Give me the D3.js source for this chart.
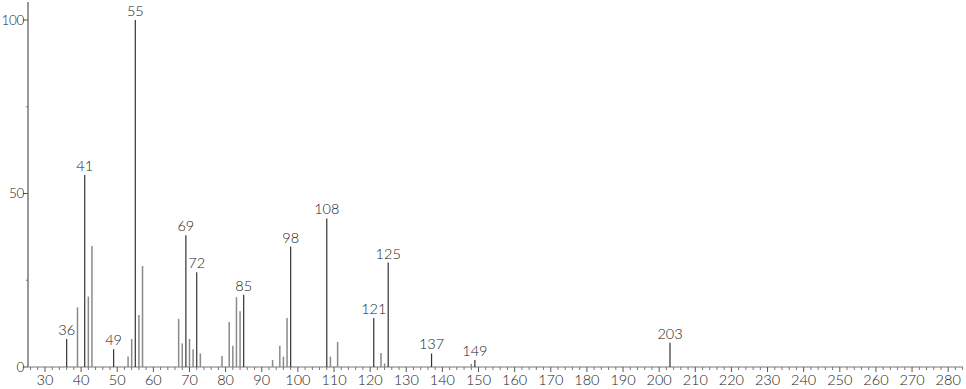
<!DOCTYPE html>
<html>
<head>
<meta charset="utf-8">
<script src="https://cdn.jsdelivr.net/npm/d3@7"></script>
<style>
  body { margin: 0; background: #fff; }
  svg { display: block; }
  text { font-family: Lato, "DejaVu Sans", sans-serif; font-weight: 300; fill: #222; }
</style>
</head>
<body>
<div id="chart"></div>
<script>
// peak m/z values and relative intensities
var mz = [36, 39, 41, 42, 43, 49, 53, 54, 55, 56, 57, 67, 68, 69, 70, 71, 72, 73,
          79, 81, 82, 83, 84, 85, 93, 95, 96, 97, 98, 108, 109, 111, 121, 123, 124,
          125, 137, 148, 149, 203];
var intensity = [8.1, 17.2, 55.3, 20.3, 34.9, 5.1, 3.0, 8.1, 100, 15.0, 29.1, 13.9, 6.8, 38.0, 8.1, 5.1, 27.3, 3.9,
                 3.2, 13.0, 6.1, 20.1, 16.1, 20.8, 2.0, 6.1, 3.0, 14.1, 34.7, 42.8, 3.0, 7.2, 14.1, 4.0, 1.0,
                 30.1, 3.9, 0.9, 2.0, 7.0];
var labeledPeaks = [36, 41, 49, 55, 69, 72, 85, 98, 108, 121, 125, 137, 149, 203];
var xTicks = d3.range(30, 281, 10);
var yTicks = [0, 50, 100];

var svgWidth = 966;
var svgHeight = 389;

var margin = { top: 20, bottom: 22, right: 3, left: 28 };

var height = svgHeight - margin.top - margin.bottom;
var width = svgWidth - margin.left - margin.right;

var svg = d3.select("#chart")
    .append("svg")
    .attr("width", svgWidth)
    .attr("height", svgHeight);

var chartGroup = svg.append("g")
    .attr("transform", `translate(${margin.left}, ${margin.top})`);

var data = mz.map(function (m, i) {
    return { mz: m, y: intensity[i], labeled: labeledPeaks.indexOf(m) >= 0 };
});

var xScale = d3.scaleLinear()
    .domain([25.3, 284.1])
    .range([0, width]);

var yScale = d3.scaleLinear()
    .domain([0, 100])
    .range([height, 0]);

// x axis: minor ticks every 2, major every 10
var xAxisG = chartGroup.append("g")
    .attr("transform", `translate(0, ${height})`);

xAxisG.append("line")
    .attr("x1", 0).attr("x2", width)
    .attr("stroke", "#777").attr("stroke-width", 1);

xAxisG.selectAll(".minor")
    .data(d3.range(26, 285, 2).filter(d => d % 10 !== 0))
    .enter().append("line")
    .attr("x1", d => xScale(d)).attr("x2", d => xScale(d))
    .attr("y1", 0).attr("y2", 3)
    .attr("stroke", "#777");

xAxisG.selectAll(".major")
    .data(xTicks)
    .enter().append("line")
    .attr("x1", d => xScale(d)).attr("x2", d => xScale(d))
    .attr("y1", 0).attr("y2", 5)
    .attr("stroke", "#555");

xAxisG.selectAll("text")
    .data(xTicks)
    .enter().append("text")
    .attr("x", d => xScale(d))
    .attr("y", 18)
    .attr("text-anchor", "middle")
    .attr("font-size", 14.5)
    .text(d => d);

// y axis
var yAxisG = chartGroup.append("g");

yAxisG.append("line")
    .attr("x1", 0).attr("x2", 0)
    .attr("y1", -18).attr("y2", height)
    .attr("stroke", "#999").attr("stroke-width", 2);

yAxisG.selectAll(".minor")
    .data([25, 75])
    .enter().append("line")
    .attr("x1", -2).attr("x2", 0)
    .attr("y1", d => yScale(d)).attr("y2", d => yScale(d))
    .attr("stroke", "#777");

yAxisG.selectAll(".major")
    .data(yTicks)
    .enter().append("line")
    .attr("x1", -5).attr("x2", 0)
    .attr("y1", d => yScale(d)).attr("y2", d => yScale(d))
    .attr("stroke", "#555");

yAxisG.selectAll("text")
    .data(yTicks)
    .enter().append("text")
    .attr("x", -4)
    .attr("y", d => yScale(d))
    .attr("dy", "0.35em")
    .attr("text-anchor", "end")
    .attr("font-size", 13.5)
    .attr("letter-spacing", -0.3)
    .text(d => d);

// peaks
chartGroup.selectAll(".peak")
    .data(data)
    .enter().append("line")
    .attr("class", "peak")
    .attr("x1", d => xScale(d.mz)).attr("x2", d => xScale(d.mz))
    .attr("y1", height)
    .attr("y2", d => yScale(d.y))
    .attr("stroke", d => d.labeled ? "#333" : "#8a8a8a")
    .attr("stroke-width", d => d.labeled ? 1.2 : 1.5);

// peak labels
chartGroup.selectAll(".peakLabel")
    .data(data.filter(d => d.labeled))
    .enter().append("text")
    .attr("class", "peakLabel")
    .attr("x", d => xScale(d.mz))
    .attr("y", d => yScale(d.y) - 4)
    .attr("text-anchor", "middle")
    .attr("font-size", 14.5)
    .text(d => d.mz);
</script>
</body>
</html>
